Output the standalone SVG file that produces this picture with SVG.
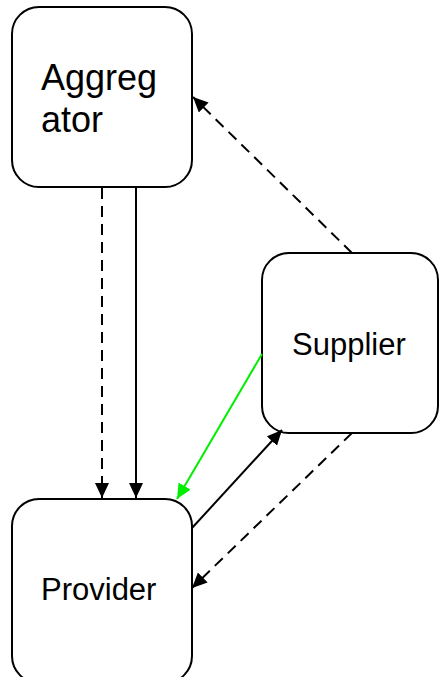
<svg xmlns="http://www.w3.org/2000/svg" width="439" height="677" viewBox="0 0 439 677">
  <style>
    .box { fill: #ffffff; stroke: #000000; stroke-width: 2; }
    .label { font-family: "Liberation Sans", Arial, sans-serif; fill: #000000; }
    .big { font-size: 36px; }
    .mid { font-size: 31px; }
    .edge { fill: none; stroke: #000000; stroke-width: 2; }
    .dash { stroke-dasharray: 11 7; }
    .green { stroke: #00ee00; }
  </style>
  <defs>
    <marker id="arrow" markerUnits="userSpaceOnUse" markerWidth="17" markerHeight="16" refX="15" refY="7" orient="auto">
      <path d="M0,0 L15,7 L0,14 z" fill="#000000"/>
    </marker>
    <marker id="arrowGreen" markerUnits="userSpaceOnUse" markerWidth="17" markerHeight="16" refX="15" refY="7" orient="auto">
      <path d="M0,0 L15,7 L0,14 z" fill="#00ee00"/>
    </marker>
  </defs>
  <rect width="439" height="677" fill="#ffffff"/>

  <g id="aggregator">
    <rect class="box" x="12" y="7" width="180" height="180" rx="27" ry="27"/>
    <text class="label big" x="41" y="90">Aggreg</text>
    <text class="label big" x="41" y="132">ator</text>
  </g>

  <g id="supplier">
    <rect class="box" x="262" y="253" width="176" height="180" rx="27" ry="27"/>
    <text class="label mid" x="292" y="355">Supplier</text>
  </g>

  <g id="provider">
    <rect class="box" x="12" y="499" width="180" height="184" rx="27" ry="27"/>
    <text class="label mid" x="41" y="600">Provider</text>
  </g>

  <g id="connectors">
    <line class="edge dash" x1="102" y1="188" x2="102" y2="498" marker-end="url(#arrow)"/>
    <line class="edge" x1="136" y1="188" x2="136" y2="498" marker-end="url(#arrow)"/>
    <line class="edge dash" x1="352" y1="253" x2="193" y2="97" marker-end="url(#arrow)"/>
    <line class="edge green" x1="262" y1="354" x2="177" y2="499" marker-end="url(#arrowGreen)"/>
    <line class="edge" x1="192" y1="528" x2="282" y2="430" marker-end="url(#arrow)"/>
    <line class="edge dash" x1="352" y1="433" x2="192" y2="588" marker-end="url(#arrow)"/>
  </g>
</svg>
